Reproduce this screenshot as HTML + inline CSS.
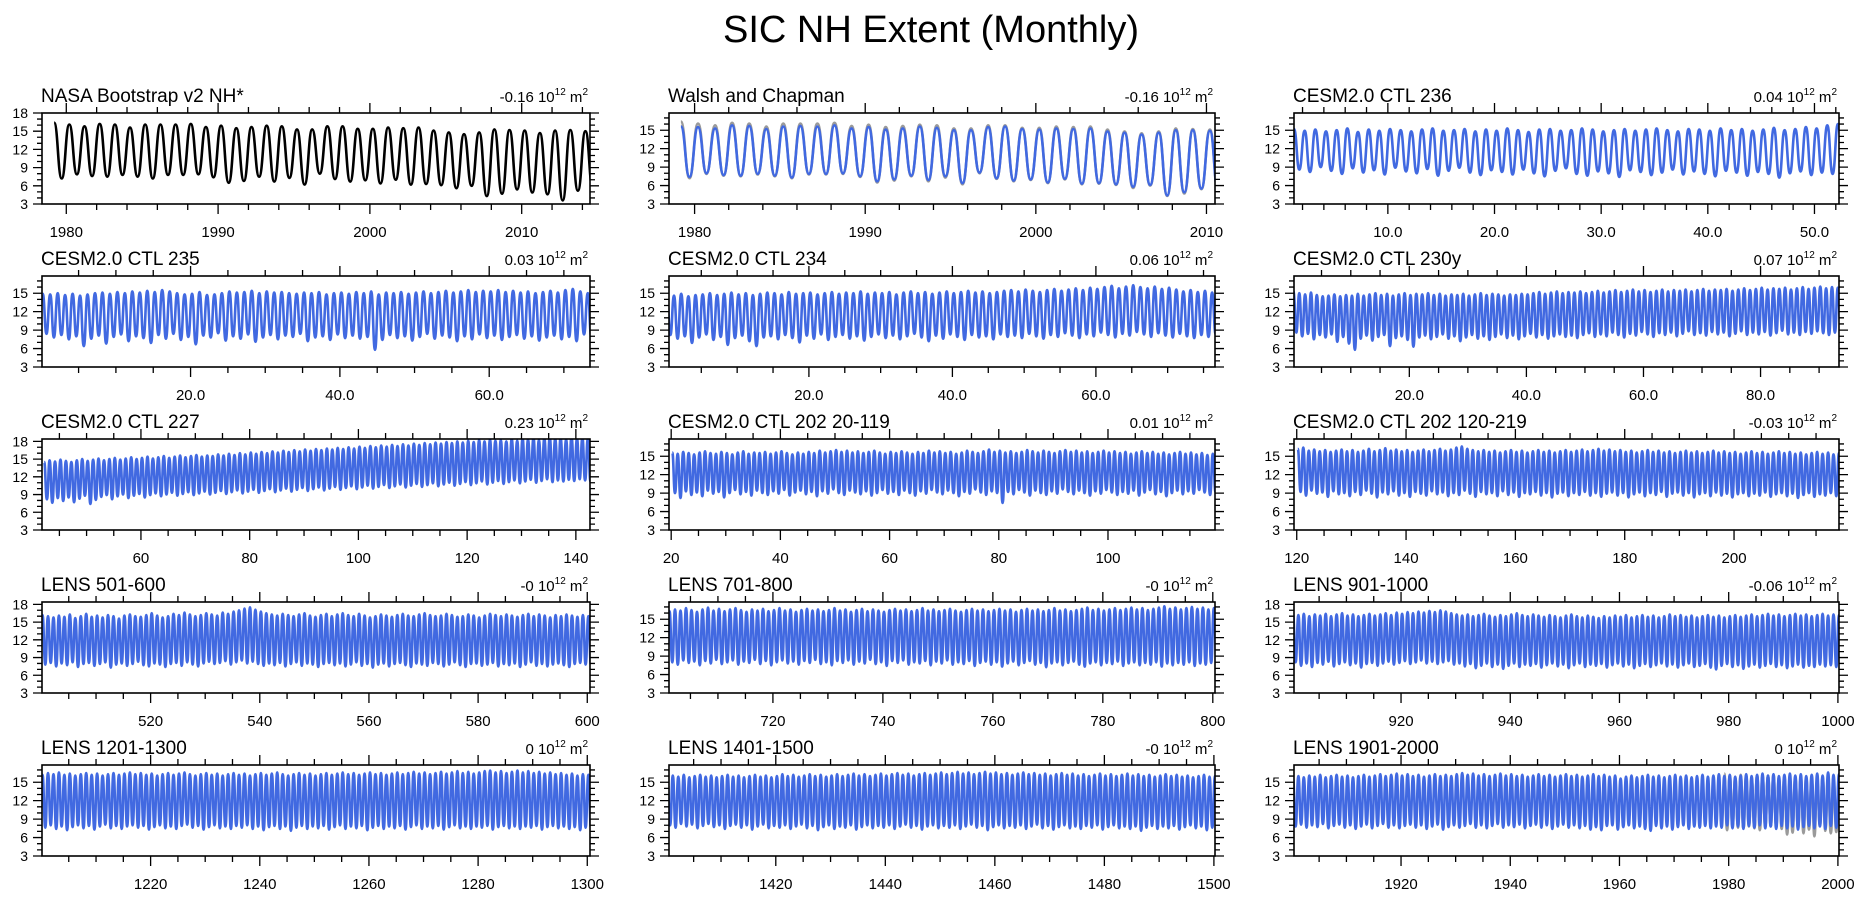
<!DOCTYPE html>
<html><head><meta charset="utf-8"><title>SIC NH Extent (Monthly)</title>
<style>
html,body{margin:0;padding:0;background:#fff;}
svg{display:block;font-family:"Liberation Sans",Arial,sans-serif;}
</style></head>
<body>
<svg id="chart" width="1862" height="897" viewBox="0 0 1862 897">
<text x="931" y="42" text-anchor="middle" font-size="38" fill="#000">SIC NH Extent (Monthly)</text>
</svg>
<script>
// ---- data (annual maxima / minima of monthly extent, 10^12 m^2) ----
const p1Max=[16.4,16.1,15.8,16.2,16.1,15.6,16.1,16.1,16.1,16.2,15.7,15.9,15.5,15.7,15.9,15.8,15.3,15.3,15.8,15.8,15.4,15.4,15.6,15.5,15.6,15.1,14.8,14.5,14.8,15.3,15.2,15.1,14.7,15.1,15.2,15.0];
const p1Min=[7.2,7.9,7.6,7.5,7.8,7.5,7.2,7.8,7.8,7.9,7.4,6.5,6.8,7.5,6.7,7.3,6.2,8.0,7.1,6.7,6.9,6.4,7.0,6.2,6.3,6.1,5.6,6.0,4.3,4.7,5.4,4.9,4.6,3.6,5.2,5.3];
const p2Max=[15.6,15.5,15.3,15.8,15.7,15.2,15.6,15.7,15.6,15.8,15.3,15.5,15.1,15.3,15.6,15.4,15.0,15.0,15.5,15.6,15.2,15.1,15.3,15.2,15.3,14.8,14.6,14.3,14.6,15.0,15.0,14.9];
const p2Min=[7.4,8.0,7.7,7.6,7.9,7.6,7.3,7.9,7.9,8.0,7.5,6.7,7.0,7.6,6.9,7.5,6.4,8.1,7.2,6.8,7.0,6.5,7.1,6.3,6.4,6.2,5.8,6.1,4.4,4.9,5.5,4.8];
const p3Max=[15.2,14.9,15.1,14.8,15.0,15.3,14.7,15.1,14.9,15.2,15.0,14.8,15.1,15.3,14.9,15.0,15.2,14.8,15.1,14.9,15.3,15.0,14.7,15.1,15.2,14.9,15.0,15.3,15.1,14.8,15.0,15.2,14.9,15.1,15.3,15.0,14.8,15.2,15.1,14.9,15.3,15.0,15.2,14.9,15.1,15.4,15.0,15.2,15.5,15.3,15.8,16.0,15.2];
const p3Min=[8.6,8.2,9.0,8.4,7.9,8.8,8.1,8.5,7.8,8.9,8.3,8.0,8.7,7.6,8.4,8.9,8.1,7.7,8.5,8.2,7.8,8.6,8.0,7.5,8.4,8.8,7.9,7.6,8.3,8.0,7.4,8.5,8.2,7.7,8.1,8.6,7.8,8.3,7.9,7.5,8.4,8.1,7.6,8.2,7.9,7.3,8.0,8.3,7.7,8.1,7.9,8.5,8.0];
const p4Max=[14.9,14.8,15.0,14.7,14.9,14.6,14.8,15.0,15.1,14.9,15.2,15.0,15.3,15.1,15.4,15.2,15.5,15.3,15.0,14.8,14.9,15.2,14.7,14.8,15.0,15.3,15.1,15.2,15.4,15.0,15.3,15.1,15.2,15.0,14.9,15.1,15.0,15.2,14.8,15.0,15.1,14.9,15.2,15.0,15.3,14.8,15.1,15.0,15.2,14.9,15.1,15.3,15.0,15.2,15.4,15.1,15.3,15.5,15.2,15.4,15.3,15.5,15.2,15.4,15.1,15.3,15.0,15.2,15.4,15.1,15.5,15.7,15.3,15.0];
const p4Min=[8.4,7.8,8.2,7.5,8.0,6.4,7.6,8.1,6.8,7.9,8.3,7.2,8.0,7.7,6.9,8.2,7.6,8.4,7.4,7.9,6.7,8.1,7.8,8.5,7.3,8.0,7.6,8.3,7.1,7.8,8.2,7.5,8.1,7.9,8.4,7.2,7.8,8.0,7.4,8.3,7.7,8.1,7.6,7.9,5.8,7.4,8.2,7.7,8.0,7.3,7.9,8.4,7.6,8.1,7.8,7.2,8.0,7.5,8.3,7.7,8.1,7.4,7.9,8.2,7.6,8.0,7.3,7.8,8.1,7.5,7.9,7.2,8.3,7.7];
const p5Max=[14.8,14.6,14.9,14.5,14.7,14.8,15.0,14.7,14.9,15.1,14.8,15.0,14.7,14.9,15.1,15.0,14.8,15.2,14.9,15.0,15.1,14.8,15.0,15.2,14.9,15.1,15.0,15.3,14.9,15.1,15.0,15.2,14.8,15.1,15.3,15.0,15.2,14.9,15.1,15.3,15.0,15.2,15.4,15.1,15.3,15.0,15.2,15.4,15.5,15.3,15.6,15.4,15.2,15.5,15.7,15.4,15.6,15.8,15.5,15.9,15.7,16.0,16.2,15.8,16.1,16.3,16.0,15.8,16.1,15.7,15.9,15.6,15.3,15.5,15.2,15.4,15.1];
const p5Min=[8.2,7.6,8.0,6.9,7.8,8.3,7.4,7.9,6.6,7.7,8.1,7.2,6.4,7.8,8.0,7.5,8.2,7.7,7.0,8.1,7.6,8.3,7.4,7.9,8.2,7.6,8.0,7.3,7.9,8.3,7.7,8.1,7.5,8.0,8.4,7.8,7.2,8.1,7.6,8.3,7.9,7.4,8.2,7.8,8.0,7.5,8.3,7.9,8.1,7.7,8.4,8.0,7.6,8.2,7.9,8.5,8.1,7.7,8.3,8.0,8.6,8.2,7.8,8.4,8.1,8.7,8.3,7.9,8.5,8.1,7.8,8.4,8.0,7.7,8.2,7.9,8.3];
const p6Max=[15.3,15.0,14.8,15.1,14.7,14.5,14.6,14.8,14.5,14.7,14.6,14.9,14.6,14.8,15.0,14.7,14.9,14.6,14.8,15.0,14.7,14.9,14.8,15.0,14.7,14.9,14.6,14.8,14.7,14.9,14.6,14.8,15.0,14.7,14.9,14.8,14.6,14.8,14.7,14.9,14.8,15.0,15.2,14.9,15.1,15.3,15.0,15.2,15.1,15.3,15.0,15.2,15.4,15.1,15.3,15.5,15.2,15.4,15.6,15.3,15.5,15.2,15.4,15.6,15.3,15.5,15.4,15.6,15.3,15.5,15.7,15.4,15.6,15.5,15.7,15.4,15.6,15.8,15.5,15.7,15.9,15.6,15.8,15.7,15.9,15.6,15.8,16.0,15.7,15.9,16.1,15.8,16.0,15.9];
const p6Min=[8.6,8.0,8.4,7.5,8.2,7.8,8.3,7.1,7.9,6.8,5.8,7.6,8.1,7.3,7.9,8.2,6.4,7.7,8.0,7.4,6.3,7.8,8.1,7.5,7.9,8.3,7.6,8.0,7.2,7.8,8.2,7.6,8.0,7.4,7.9,8.3,7.7,8.1,7.5,8.0,8.4,7.8,8.2,7.6,8.0,8.3,7.9,8.1,7.7,8.2,8.5,7.9,8.3,8.0,8.6,8.2,7.8,8.4,8.1,8.7,8.3,7.9,8.5,8.2,8.6,8.0,8.4,8.8,8.2,8.5,8.1,8.7,8.3,8.6,8.0,8.4,8.8,8.2,8.6,8.3,8.7,8.1,8.5,8.9,8.3,8.6,8.2,8.7,8.4,8.8,8.5,8.2,8.6,8.9];
const p7Max=[14.5,14.8,14.6,14.9,14.7,14.5,14.8,15.0,14.7,14.9,15.1,14.8,15.0,15.2,14.9,15.1,15.3,15.0,15.2,15.4,15.1,15.3,15.5,15.2,15.4,15.6,15.3,15.5,15.7,15.4,15.6,15.5,15.8,15.6,15.9,15.7,16.0,15.8,16.1,15.9,16.2,16.0,16.3,16.1,16.4,16.2,16.5,16.3,16.6,16.4,16.7,16.5,16.8,16.6,16.9,16.7,17.0,16.8,17.1,16.9,17.2,17.0,17.3,17.1,17.4,17.2,17.5,17.3,17.6,17.4,17.7,17.5,17.8,17.6,17.9,17.7,18.0,17.8,18.1,17.9,18.2,18.0,18.3,18.1,18.2,18.0,18.4,18.1,18.5,18.3,18.6,18.2,18.5,18.7,18.4,18.6,18.3,18.8,18.5,18.6,18.4];
const p7Min=[8.2,7.6,8.4,7.9,8.5,7.7,8.3,8.8,7.4,8.1,8.6,8.9,8.2,8.7,9.0,8.4,8.8,9.1,8.5,8.9,9.2,8.7,9.0,9.3,8.8,9.1,9.4,8.9,9.2,9.5,9.0,9.3,9.6,9.1,9.4,9.7,9.2,9.5,9.8,9.3,9.6,9.9,9.4,9.7,10.0,9.5,9.8,10.1,9.6,9.9,10.2,9.7,10.0,10.3,9.8,10.1,10.4,9.9,10.2,10.5,10.0,10.3,10.6,10.1,10.4,10.7,10.2,10.5,10.8,10.3,10.6,10.9,10.4,10.7,11.0,10.5,10.8,11.1,10.6,10.9,11.2,10.7,11.0,11.3,10.8,11.1,11.4,10.9,11.2,11.5,11.0,11.3,11.6,11.1,11.4,11.2,11.5,11.3,11.6,11.4,11.2];
const p8Max=[15.6,15.4,15.7,15.5,15.3,15.6,15.8,15.5,15.4,15.7,15.5,15.3,15.6,15.8,15.4,15.6,15.5,15.7,15.4,15.6,15.8,15.5,15.3,15.6,15.4,15.7,15.5,15.9,15.6,15.8,16.0,15.7,15.9,15.6,15.8,15.5,15.7,15.9,15.6,15.4,15.7,15.5,15.8,15.6,15.4,15.7,15.5,15.9,15.6,15.8,15.5,15.7,15.4,15.6,15.9,15.7,15.5,15.8,16.1,15.7,15.9,15.6,15.8,15.5,15.7,16.0,15.8,15.6,15.9,15.7,15.5,15.8,16.0,15.7,15.9,15.6,15.8,15.5,15.7,15.9,15.6,15.8,15.5,15.7,15.4,15.6,15.8,15.5,15.7,15.4,15.6,15.3,15.5,15.7,15.4,15.6,15.3,15.5,15.2,15.4,15.3];
const p8Min=[9.0,8.2,9.3,8.7,9.1,8.5,9.4,8.9,9.2,8.3,9.0,9.5,8.8,9.2,8.6,9.4,9.0,8.7,9.3,8.9,9.5,8.6,9.1,9.4,8.8,9.2,8.5,9.3,8.9,9.6,9.0,8.7,9.4,9.1,8.8,9.3,8.6,9.0,9.5,8.9,9.2,8.7,9.4,9.0,8.6,9.3,8.9,9.5,9.1,8.8,9.4,9.0,8.5,9.2,8.9,9.6,9.1,8.7,9.3,9.0,7.4,9.2,8.8,9.5,9.1,8.6,9.4,9.0,8.7,9.3,8.9,9.6,9.2,8.8,9.4,9.0,8.6,9.3,8.9,9.5,9.1,8.7,9.2,8.9,9.4,8.6,9.1,9.5,8.8,9.2,8.5,9.0,9.4,8.8,9.3,8.9,9.5,9.1,8.7,9.2,9.0];
const p9Max=[16.2,16.4,15.9,16.1,15.8,16.0,15.7,15.9,16.1,15.8,16.0,15.7,15.9,16.2,15.8,16.0,16.3,15.9,16.1,15.8,16.0,15.7,15.9,16.1,15.8,16.0,16.2,15.9,16.1,16.4,16.6,16.2,16.0,15.8,16.0,15.7,15.9,15.6,15.8,16.0,15.7,15.9,15.6,15.8,16.0,15.7,15.9,15.6,15.8,16.0,15.7,15.9,16.1,15.8,16.0,16.2,15.9,16.1,15.8,16.0,15.7,15.9,15.6,15.8,16.0,15.7,15.9,15.6,15.8,15.5,15.7,15.9,15.6,15.8,15.5,15.7,15.9,15.6,15.8,15.5,15.7,15.4,15.6,15.8,15.5,15.7,15.4,15.6,15.8,15.5,15.7,15.4,15.6,15.3,15.5,15.7,15.4,15.6,15.3,15.5,15.4];
const p9Min=[9.2,8.6,9.4,8.9,9.1,8.4,9.3,8.8,9.0,8.5,9.2,8.7,9.4,8.9,8.3,9.1,8.8,9.3,8.6,9.0,8.4,9.2,8.9,8.6,9.3,8.8,9.1,8.5,9.0,8.7,9.4,8.9,8.4,9.2,8.8,9.0,8.5,9.3,8.7,9.1,8.4,9.0,8.8,9.2,8.6,9.0,8.3,8.9,9.1,8.5,9.0,8.7,9.2,8.6,9.0,8.4,8.9,9.1,8.6,9.0,8.3,8.8,9.1,8.5,9.0,8.7,9.2,8.4,8.9,9.1,8.6,9.0,8.3,8.8,9.0,8.5,9.1,8.6,8.9,8.3,8.8,9.0,8.5,8.9,8.6,9.1,8.4,8.8,9.0,8.5,8.9,8.2,8.7,9.0,8.4,8.8,8.6,9.0,8.5,8.8,8.6];
const p10Max=[16.2,16.0,15.8,16.1,15.9,16.3,15.7,16.0,16.4,15.9,16.1,15.8,16.2,16.0,15.6,16.1,16.3,16.0,15.9,16.2,16.5,16.1,15.8,16.0,16.4,16.2,16.6,16.3,16.0,16.2,16.5,16.3,16.1,16.6,16.4,16.8,17.0,17.3,17.5,17.1,16.8,16.5,16.3,16.1,16.4,16.2,16.0,16.3,16.5,16.1,15.9,16.2,16.4,16.0,16.3,16.5,16.2,16.0,16.4,16.1,15.8,16.0,16.3,16.1,15.9,16.2,16.4,16.1,16.0,16.3,16.5,16.2,16.0,16.1,16.4,16.2,15.9,16.0,16.3,16.1,15.8,16.1,16.4,16.2,16.0,16.3,16.1,15.9,16.2,16.4,16.0,16.3,16.1,15.8,16.2,16.0,16.3,16.1,15.9,16.2,16.0];
const p10Min=[7.8,8.1,7.5,8.0,7.7,8.2,7.4,7.9,8.1,7.6,7.9,8.2,7.3,7.8,8.0,7.6,7.9,8.3,7.7,7.5,8.0,7.8,7.4,7.9,8.1,7.6,8.2,7.8,7.5,8.0,8.3,7.9,8.1,8.4,7.8,8.2,8.5,8.0,8.3,7.9,7.6,8.0,7.7,8.1,7.5,7.9,8.2,7.6,8.0,7.8,7.4,7.9,8.1,7.7,8.0,7.5,7.8,8.2,7.6,7.9,7.3,7.8,8.0,7.5,7.9,8.1,7.7,7.4,8.0,7.8,7.6,8.1,7.9,7.5,7.8,8.2,7.7,7.4,7.9,8.0,7.6,7.8,8.1,7.5,7.9,7.7,8.0,7.4,7.8,8.2,7.6,7.9,7.5,7.8,8.0,7.7,7.4,7.9,8.1,7.8,7.6];
const p11Max=[16.3,16.6,16.4,16.8,16.5,16.2,16.6,16.9,16.4,16.7,16.3,16.6,16.8,16.5,16.2,16.6,16.4,16.7,16.3,16.5,16.8,16.4,16.6,16.2,16.5,16.7,16.4,16.6,16.3,16.5,16.8,16.4,16.6,16.2,16.5,16.7,16.3,16.6,16.4,16.2,16.5,16.7,16.4,16.6,16.3,16.5,16.8,16.4,16.6,16.3,16.5,16.7,16.4,16.2,16.5,16.7,16.4,16.6,16.3,16.5,16.7,16.4,16.6,16.2,16.5,16.7,16.4,16.6,16.3,16.5,16.8,16.4,16.6,16.3,16.5,16.7,16.9,16.5,16.7,16.4,16.6,16.8,16.5,16.7,16.9,16.6,16.8,16.5,16.7,16.9,17.1,16.7,16.9,16.6,16.8,17.0,16.7,16.9,16.6,16.8,16.7];
const p11Min=[8.0,7.6,8.3,7.9,8.1,7.5,8.2,7.8,8.4,7.7,8.0,8.3,7.6,8.1,7.9,8.4,7.7,8.2,7.5,8.0,8.3,7.8,8.1,7.6,8.2,7.9,8.4,7.7,8.0,7.5,8.2,7.9,8.3,7.6,8.1,7.8,8.4,7.7,8.0,7.4,8.2,7.9,8.3,7.6,8.0,7.8,8.2,7.5,8.1,7.8,8.3,7.6,8.0,7.7,8.2,7.4,7.9,8.1,7.6,8.0,7.3,7.8,8.1,7.5,7.9,8.2,7.6,7.9,7.2,7.8,8.0,7.5,7.9,8.1,7.6,7.3,7.8,8.0,7.5,7.9,7.7,8.1,7.4,7.8,8.0,7.5,7.9,7.6,8.0,7.3,7.8,7.5,7.9,7.6,8.0,7.4,7.8,7.6,7.9,7.5,7.7];
const p12Max=[16.5,16.2,16.4,16.0,16.3,16.1,16.4,16.0,16.3,16.5,16.1,16.3,16.0,16.2,16.4,16.1,16.3,16.5,16.2,16.6,16.4,16.7,16.5,16.8,16.6,16.9,16.7,17.0,16.8,16.5,16.3,16.1,16.3,16.0,16.2,16.4,16.1,15.9,16.2,16.0,16.3,16.5,16.2,16.0,16.3,16.1,15.9,16.2,16.0,15.8,16.1,16.3,16.0,15.8,16.1,15.9,15.7,16.0,15.8,16.1,15.9,16.2,15.8,16.0,16.2,15.9,16.1,15.8,16.0,16.3,16.0,16.2,15.9,16.1,15.8,16.0,16.2,15.9,16.1,15.8,16.0,16.2,15.9,16.1,16.3,16.0,16.2,16.4,16.1,16.3,16.0,16.2,16.4,16.1,16.3,16.0,16.2,16.4,16.1,16.3,16.2];
const p12Min=[8.2,7.6,8.0,7.4,8.1,7.8,8.3,7.5,7.9,8.2,7.7,8.0,7.3,7.9,8.1,7.6,8.0,8.3,7.8,8.1,8.4,7.9,8.2,8.5,8.0,8.3,7.9,8.2,8.4,7.8,8.0,7.5,7.9,7.2,7.6,8.0,7.4,7.8,7.1,7.6,8.0,7.4,7.8,7.6,7.9,7.3,7.7,8.0,7.5,7.8,7.2,7.7,8.0,7.4,7.8,7.6,7.9,7.3,7.7,8.0,7.5,7.8,7.2,7.6,7.9,7.4,7.7,8.0,7.5,7.8,7.3,7.7,8.0,7.4,7.6,7.9,7.3,7.0,7.6,7.9,7.4,7.7,7.1,7.5,7.8,7.3,7.6,7.9,7.4,7.7,7.2,7.5,7.8,7.3,7.6,7.4,7.8,7.5,7.7,7.4,7.6];
const p13Max=[16.2,16.5,16.3,16.6,16.2,16.4,16.1,16.3,16.5,16.2,16.4,16.1,16.3,16.5,16.2,16.4,16.6,16.3,16.5,16.2,16.4,16.1,16.3,16.5,16.2,16.4,16.6,16.3,16.1,16.3,16.5,16.2,16.4,16.1,16.3,16.5,16.2,16.4,16.1,16.3,16.5,16.2,16.4,16.6,16.3,16.1,16.3,16.5,16.2,16.4,16.1,16.3,16.5,16.2,16.4,16.6,16.3,16.5,16.2,16.4,16.6,16.3,16.5,16.2,16.4,16.6,16.3,16.5,16.7,16.4,16.6,16.3,16.5,16.7,16.4,16.6,16.8,16.5,16.7,16.4,16.6,16.8,16.9,16.6,16.8,16.5,16.7,16.9,16.6,16.8,16.5,16.7,16.4,16.6,16.3,16.5,16.2,16.4,16.1,16.3,16.2];
const p13Min=[7.6,8.0,7.4,7.8,7.2,7.7,8.0,7.5,7.9,7.3,7.8,8.1,7.5,7.9,7.4,7.8,8.0,7.6,7.9,7.3,7.7,8.0,7.5,7.8,7.4,7.9,8.1,7.6,7.9,7.3,7.7,8.0,7.5,7.8,7.4,7.9,7.6,8.0,7.4,7.8,7.2,7.7,7.9,7.4,7.8,7.1,7.6,7.9,7.4,7.8,7.5,7.9,7.3,7.7,8.0,7.4,7.8,7.5,7.9,7.2,7.6,7.9,7.4,7.8,7.5,7.9,7.3,7.7,8.0,7.4,7.8,7.5,7.9,7.3,7.7,8.0,7.5,7.8,7.4,7.8,7.6,7.9,7.3,7.7,7.9,7.5,7.8,7.4,7.8,7.6,7.9,7.3,7.7,7.9,7.5,7.8,7.4,7.7,7.2,7.6,7.4];
const p14Max=[15.8,16.1,15.9,16.2,15.8,16.0,16.2,15.9,16.1,15.8,16.0,16.2,15.9,16.1,15.8,16.0,16.2,15.9,16.1,15.8,16.0,16.3,16.0,16.2,15.9,16.1,16.3,16.0,16.2,15.9,16.1,16.3,16.0,16.2,16.4,16.1,16.3,16.0,16.2,16.4,16.1,16.3,16.5,16.2,16.4,16.1,16.3,16.5,16.2,16.4,16.6,16.3,16.5,16.7,16.4,16.6,16.3,16.5,16.7,16.4,16.6,16.3,16.5,16.2,16.4,16.6,16.3,16.5,16.2,16.4,16.1,16.3,16.5,16.2,16.4,16.1,16.3,16.0,16.2,16.4,16.1,16.3,16.0,16.2,16.4,16.1,16.3,16.0,16.2,15.9,16.1,16.3,16.0,16.2,15.9,16.1,15.8,16.0,16.2,15.9,16.0];
const p14Min=[8.0,7.6,8.2,7.8,8.1,7.5,7.9,8.2,7.7,8.0,7.4,7.9,8.1,7.6,8.0,7.3,7.8,8.1,7.5,7.9,7.6,8.0,7.4,7.8,8.1,7.5,7.9,7.2,7.7,8.0,7.4,7.8,7.6,8.0,7.3,7.7,8.0,7.5,7.9,7.6,8.0,7.4,7.8,8.1,7.6,7.9,7.3,7.8,8.0,7.5,7.9,7.6,8.0,7.4,7.8,8.1,7.6,7.9,7.2,7.7,8.0,7.5,7.9,7.6,8.0,7.4,7.8,8.1,7.5,7.9,7.3,7.7,8.0,7.5,7.8,7.4,7.9,7.6,8.0,7.3,7.7,8.0,7.5,7.8,7.4,7.8,7.1,7.6,7.9,7.4,7.8,7.5,7.9,7.3,7.7,8.0,7.5,7.8,7.2,7.6,7.4];
const p15Max=[15.7,16.0,15.8,16.1,15.9,16.2,15.8,16.0,16.2,15.9,16.1,15.8,16.0,16.2,15.9,16.1,16.3,16.0,16.2,16.4,16.1,16.3,16.0,16.2,15.9,16.1,16.3,16.0,16.2,16.0,16.3,16.5,16.2,16.4,16.1,16.3,16.0,16.2,16.4,16.1,16.3,16.0,16.2,15.9,16.1,16.3,16.0,16.2,15.9,16.1,16.3,16.0,16.2,15.9,16.1,16.3,16.0,16.2,15.9,16.1,15.6,15.9,16.1,15.8,16.0,16.2,15.9,16.1,15.8,16.0,16.2,15.9,16.1,15.8,16.0,16.2,15.9,16.1,16.3,16.0,16.2,15.9,16.1,16.3,16.0,16.2,16.4,16.1,16.3,16.0,16.2,16.4,16.1,16.3,16.0,16.2,16.4,16.1,16.6,16.2,16.3];
const p15Min=[7.8,8.1,7.6,8.0,7.7,8.2,7.5,7.9,8.1,7.6,8.0,7.4,7.8,8.1,7.5,7.9,8.2,7.6,8.0,7.5,7.9,8.1,7.6,8.0,7.4,7.8,8.1,7.3,7.7,8.0,7.6,7.9,8.2,7.6,8.0,7.5,7.9,8.2,7.6,8.0,7.7,8.1,7.5,7.9,8.1,7.6,8.0,7.4,7.8,8.1,7.6,8.0,7.5,7.9,7.3,7.7,7.2,7.9,8.0,7.3,7.7,8.0,7.5,7.8,7.4,7.1,7.9,7.5,7.8,7.3,7.7,8.0,7.4,7.8,7.6,7.9,7.5,7.8,7.6,8.0,7.5,7.8,7.4,7.9,7.6,8.0,7.5,7.8,7.4,7.9,7.5,7.8,7.3,7.7,7.9,7.5,7.8,7.4,7.9,7.6,7.7];
// ---- panel metadata ----
const titles=["NASA Bootstrap v2 NH*","Walsh and Chapman","CESM2.0 CTL 236","CESM2.0 CTL 235","CESM2.0 CTL 234","CESM2.0 CTL 230y","CESM2.0 CTL 227","CESM2.0 CTL 202 20-119","CESM2.0 CTL 202 120-219","LENS 501-600","LENS 701-800","LENS 901-1000","LENS 1201-1300","LENS 1401-1500","LENS 1901-2000"];
const trendLabels=["-0.16","-0.16","0.04","0.03","0.06","0.07","0.23","0.01","-0.03","-0","-0","-0.06","0","-0","0"];
const xRanges=[[1978.4,2014.5],[1978.5,2010.5],[1.2,52.3],[0.1,73.5],[0.5,76.6],[0.3,93.4],[41.8,142.6],[19.6,119.6],[119.5,219.2],[500.1,600.5],[701.1,800.4],[900.4,1000.2],[1200.1,1300.5],[1400.5,1500.2],[1900.4,2000.2]];
const startYears=[1979,1979,1,0,0,0,42,20,120,500,701,900,1200,1400,1900];
const xTickLabels=[["1980","1990","2000","2010"],["1980","1990","2000","2010"],["10.0","20.0","30.0","40.0","50.0"],["20.0","40.0","60.0"],["20.0","40.0","60.0"],["20.0","40.0","60.0","80.0"],["60","80","100","120","140"],["20","40","60","80","100"],["120","140","160","180","200"],["520","540","560","580","600"],["720","740","760","780","800"],["920","940","960","980","1000"],["1220","1240","1260","1280","1300"],["1420","1440","1460","1480","1500"],["1920","1940","1960","1980","2000"]];
const minorSteps=[2,2,2,5,5,5,5,5,5,5,5,5,5,5,5];
const yTops=[18,17.8,17.8,17.8,17.8,17.8,18.4,17.8,17.8,18.4,17.8,18.4,17.8,17.8,17.8];
const maxSeries=[p1Max,p2Max,p3Max,p4Max,p5Max,p6Max,p7Max,p8Max,p9Max,p10Max,p11Max,p12Max,p13Max,p14Max,p15Max];
const minSeries=[p1Min,p2Min,p3Min,p4Min,p5Min,p6Min,p7Min,p8Min,p9Min,p10Min,p11Min,p12Min,p13Min,p14Min,p15Min];

const NS="http://www.w3.org/2000/svg";
const svg=document.getElementById('chart');
const colLeft=[42,669,1294], colW=[548,546,545];
const rowTop=[113,276,439,602,765], plotH=91;
function mk(tag,attrs,parent){const e=document.createElementNS(NS,tag);for(const k in attrs)e.setAttribute(k,attrs[k]);(parent||svg).appendChild(e);return e;}
function seriesPath(xs,ys,maxA,minA,start){
  const pts=[];
  for(let i=0;i<maxA.length;i++){pts.push([xs(start+i+0.2),ys(maxA[i])]);pts.push([xs(start+i+0.7),ys(minA[i])]);}
  let d=`M${pts[0][0].toFixed(1)},${pts[0][1].toFixed(1)}`;
  for(let i=1;i<pts.length;i++){const [x0,y0]=pts[i-1],[x1,y1]=pts[i];const m=(x1-x0)/2;
    d+=`C${(x0+m).toFixed(1)},${y0.toFixed(1)} ${(x1-m).toFixed(1)},${y1.toFixed(1)} ${x1.toFixed(1)},${y1.toFixed(1)}`;}
  return d;
}
for(let p=0;p<15;p++){
  const r=Math.floor(p/3),c=p%3;
  const L=colLeft[c],W=colW[c],T=rowTop[r],B=T+plotH;
  const [x0,x1]=xRanges[p], yMin=3, yMax=yTops[p];
  const xs=v=>L+(v-x0)/(x1-x0)*W, ys=v=>B-(v-yMin)/(yMax-yMin)*plotH;
  const g=mk('g',{});
  
  
  const t=mk('text',{x:L-1,y:T-11,'font-size':19,fill:'#000'},g);t.textContent=titles[p];
  
  
  const v=mk('text',{x:L+W-2,y:T-11,'font-size':15,fill:'#000','text-anchor':'end'},g);
  
  
  v.innerHTML=`${trendLabels[p]} 10<tspan font-size="10" dy="-7">12</tspan><tspan dy="7"> m</tspan><tspan font-size="10" dy="-7">2</tspan>`;
  // clip
  const cp=mk('clipPath',{id:'cp'+p},g);mk('rect',{x:L,y:T,width:W,height:plotH},cp);
  // series
  const sg=mk('g',{'clip-path':`url(#cp${p})`},g);
  if(p===1||p===14){const gp=mk('path',{d:seriesPath(xs,ys,p1Max,p1Min,1979),fill:'none',stroke:'#9a9a9a','stroke-width':2.6},sg);
    
    }
  const sp=mk('path',{d:seriesPath(xs,ys,maxSeries[p],minSeries[p],startYears[p]),fill:'none',stroke:p===0?'#000':'#4169e1','stroke-width':2.6,'stroke-linejoin':'round'},sg);
  
  
  // frame
  const fr=mk('rect',{x:L,y:T,width:W,height:plotH,fill:'none',stroke:'#000','stroke-width':1.6},g);
  
  
  // y ticks
  let tk='';
  for(let yv=3;yv<=yMax+1e-6;yv++){const y=ys(yv),maj=(yv%3===0),len=maj?9:5;
    tk+=`M${L},${y}h${-len}M${L+W},${y}h${len}`;
    if(maj){const lt=mk('text',{x:L-14,y:y+5,'font-size':14,'text-anchor':'end',fill:'#000'},g);lt.textContent=yv;
      
      }}
  // x ticks
  const ms=minorSteps[p];
  for(let xv=Math.ceil(x0/ms)*ms;xv<=x1;xv+=ms){const x=xs(xv);const maj=xTickLabels[p].some(s=>parseFloat(s)===xv);const len=maj?10:6;
    tk+=`M${x},${B}v${len}M${x},${T}v${-len}`;}
  xTickLabels[p].forEach(s=>{const xv=parseFloat(s);const xl=mk('text',{x:xs(xv),y:B+33,'font-size':15,'text-anchor':'middle',fill:'#000'},g);xl.textContent=s;
    
    });
  const tp=mk('path',{d:tk,stroke:'#000','stroke-width':1.3,fill:'none'},g);
  
  
}
</script>
</body></html>
